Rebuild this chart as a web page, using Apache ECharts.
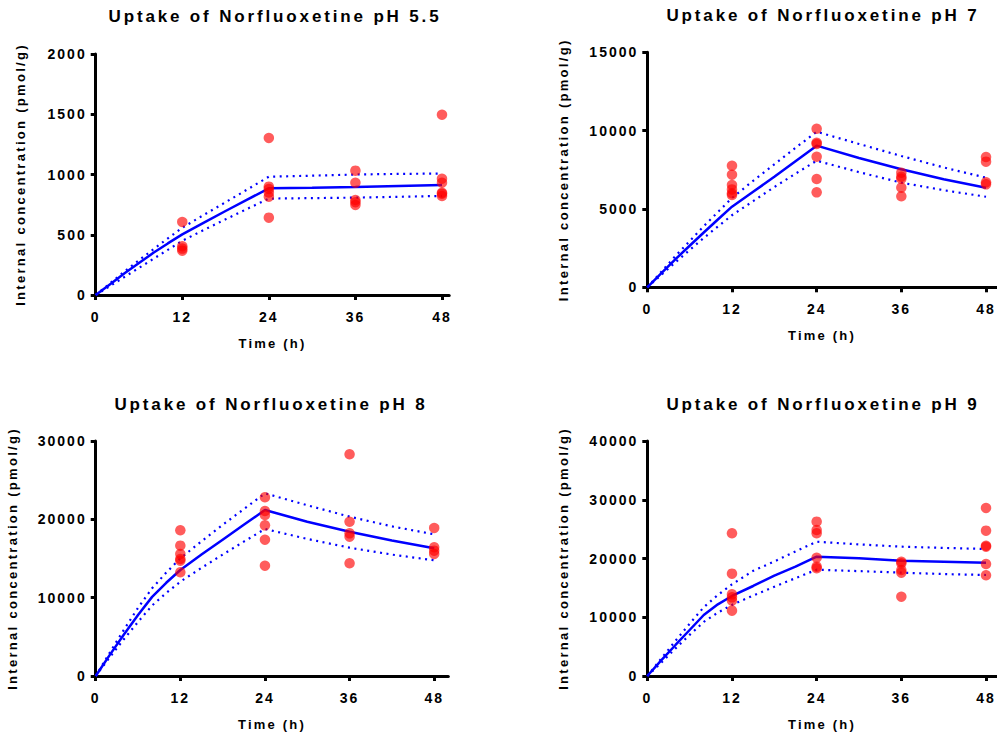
<!DOCTYPE html>
<html>
<head>
<meta charset="utf-8">
<script src="https://cdn.jsdelivr.net/npm/echarts@6/dist/echarts.min.js"></script>
<style>
html,body{margin:0;padding:0;background:#fff;}
#chart{width:997px;height:736px;}
</style>
</head>
<body>
<div id="chart"></div>
<script>
// ---------- data ----------
const panelTitles = ['Uptake of Norfluoxetine pH 5.5', 'Uptake of Norfluoxetine pH 7', 'Uptake of Norfluoxetine pH 8', 'Uptake of Norfluoxetine pH 9'];
const xTicks = [0, 12, 24, 36, 48];
const obsTimes = [12, 24, 36, 48];
const fitTimes = [0, 2, 4, 6, 8, 10, 12, 15, 18, 21, 24, 30, 36, 42, 48];

const ph55Obs = [[606, 405, 385, 368], [1303, 899, 880, 850, 816, 642], [1032, 932, 788, 770, 747], [1496, 965, 932, 849, 840, 821]];
const ph55Fit = [0, 90, 180, 265, 350, 428, 503, 600, 697, 792, 885, 890, 897, 905, 912];
const ph55Upper = [0, 98, 195, 288, 380, 470, 558, 665, 770, 875, 982, 990, 1000, 1005, 1008];
const ph55Lower = [0, 75, 150, 225, 300, 375, 450, 540, 628, 715, 800, 804, 808, 815, 822];

const ph7Obs = [[7760, 7186, 6530, 6250, 6000, 5890], [10120, 9230, 9150, 8335, 6910, 6060], [7315, 7060, 6930, 6360, 5810], [8315, 8020, 6700, 6570]];
const ph7Fit = [0, 900, 1800, 2650, 3500, 4330, 5145, 6100, 7050, 8050, 9040, 8250, 7530, 6900, 6360];
const ph7Upper = [0, 1000, 2000, 2950, 3900, 4800, 5700, 6800, 7850, 8900, 9930, 9150, 8380, 7650, 6995];
const ph7Lower = [0, 800, 1600, 2380, 3150, 3880, 4600, 5500, 6400, 7250, 8080, 7350, 6680, 6200, 5780];

const ph8Obs = [[18600, 16640, 15575, 14940, 14720, 13235], [22810, 21060, 20550, 19230, 17400, 14080], [28300, 19700, 18210, 17790, 14390], [18900, 16430, 16000, 15575]];
const ph8Fit = [0, 2700, 5300, 7800, 10100, 11900, 13530, 15500, 17400, 19300, 21190, 19700, 18420, 17300, 16300];
const ph8Upper = [0, 3000, 5900, 8700, 11200, 13200, 15020, 17200, 19300, 21300, 23320, 21800, 20340, 19100, 18090];
const ph8Lower = [0, 2400, 4700, 6900, 9000, 10600, 12040, 13800, 15500, 17150, 18770, 17500, 16380, 15500, 14770];

const ph9Obs = [[24290, 17420, 13900, 13390, 12820, 11120], [26270, 24850, 24290, 20140, 18610, 18330], [19460, 19180, 18040, 17590, 13500], [28600, 24740, 22180, 22000, 19060, 17140]];
const ph9Fit = [0, 2700, 5280, 7830, 10380, 12200, 13620, 15320, 17100, 18610, 20310, 20050, 19630, 19450, 19290];
const ph9Upper = [0, 3000, 6000, 8900, 11700, 13800, 15600, 17900, 19500, 21200, 22860, 22400, 22010, 21800, 21620];
const ph9Lower = [0, 2300, 4700, 7000, 9200, 10800, 12100, 13700, 15200, 16650, 18100, 17850, 17590, 17350, 17190];

const yMax = [2000, 15000, 30000, 40000];
const yInterval = [500, 5000, 10000, 10000];

// ---------- layout ----------
const FONT = 'Liberation Sans, Arial, sans-serif';
const grids = [
  {left: 95.7, top: 54, width: 353.5, height: 241},
  {left: 647.3, top: 52.3, width: 349.3, height: 235},
  {left: 95.7, top: 441, width: 352.6, height: 235},
  {left: 647.3, top: 441, width: 349.3, height: 235}
];
const xMax = [49, 49.5, 50, 49.5];
const yNameGap = [69, 77, 76.5, 77];
const titlePos = [{x: 275, y: 8}, {x: 823, y: 7}, {x: 271, y: 396}, {x: 823, y: 396}];

const obsSets = [ph55Obs, ph7Obs, ph8Obs, ph9Obs];
const fitSets = [ph55Fit, ph7Fit, ph8Fit, ph9Fit];
const upperSets = [ph55Upper, ph7Upper, ph8Upper, ph9Upper];
const lowerSets = [ph55Lower, ph7Lower, ph8Lower, ph9Lower];

function pairs(xs, ys) { return xs.map((x, i) => [x, ys[i]]); }
function obsPairs(obs) {
  const out = [];
  obs.forEach((vals, i) => vals.forEach(v => out.push([obsTimes[i], v])));
  return out;
}

const axisLine = {show: true, onZero: false, lineStyle: {color: '#000', width: 3}};
const tick = {show: true, inside: false, length: 5, lineStyle: {color: '#000', width: 3}};

const title = [], xAxis = [], yAxis = [], series = [];
for (let p = 0; p < 4; p++) {
  title.push({
    text: panelTitles[p], left: titlePos[p].x, top: titlePos[p].y, textAlign: 'center', padding: 0,
    textStyle: {fontFamily: FONT, fontSize: 17, fontWeight: 'bold', color: '#000'}
  });
  xAxis.push({
    type: 'value', gridIndex: p, min: 0, max: xMax[p], interval: 12,
    name: 'Time (h)', nameLocation: 'middle', nameGap: 41.5,
    nameTextStyle: {fontFamily: FONT, fontSize: 13, fontWeight: 'bold', color: '#000'},
    axisLine: axisLine,
    axisTick: Object.assign({customValues: xTicks}, tick),
    axisLabel: {customValues: xTicks, margin: 15, fontFamily: FONT, fontSize: 14, fontWeight: 'bold', color: '#000'},
    splitLine: {show: false}
  });
  yAxis.push({
    type: 'value', gridIndex: p, min: 0, max: yMax[p], interval: yInterval[p],
    name: 'Internal concentration (pmol/g)', nameLocation: 'middle', nameGap: yNameGap[p],
    nameTextStyle: {fontFamily: FONT, fontSize: 13, fontWeight: 'bold', color: '#000'},
    axisLine: axisLine, axisTick: tick,
    axisLabel: {margin: 9, fontFamily: FONT, fontSize: 14, fontWeight: 'bold', color: '#000', formatter: v => String(v)},
    splitLine: {show: false}
  });
  const lineBase = {type: 'line', xAxisIndex: p, yAxisIndex: p, symbol: 'none', silent: true, z: 2};
  series.push(Object.assign({}, lineBase, {data: pairs(fitTimes, fitSets[p]), lineStyle: {color: '#0000ff', width: 2.5}}));
  series.push(Object.assign({}, lineBase, {data: pairs(fitTimes, upperSets[p]), lineStyle: {color: '#0000ff', width: 2.2, type: [2, 4.5]}}));
  series.push(Object.assign({}, lineBase, {data: pairs(fitTimes, lowerSets[p]), lineStyle: {color: '#0000ff', width: 2.2, type: [2, 4.5]}}));
  series.push({
    type: 'scatter', xAxisIndex: p, yAxisIndex: p, symbol: 'circle', symbolSize: 10.5, z: 3,
    itemStyle: {color: 'rgba(255,0,0,0.8)'},
    data: obsPairs(obsSets[p])
  });
}

const chart = echarts.init(document.getElementById('chart'), null, {renderer: 'svg'});
chart.setOption({animation: false, backgroundColor: '#fff', title, grid: grids, xAxis, yAxis, series});

function spaceText() {
  document.querySelectorAll('#chart svg text').forEach(t => {
    const txt = t.textContent;
    let sp = 2;
    if (txt.indexOf('Uptake') === 0) sp = 2.85;
    else if (txt === 'Time (h)') sp = 2.2;
    else if (txt.indexOf('Internal') === 0) sp = 2.3;
    t.style.letterSpacing = sp + 'px';
  });
}
spaceText();
chart.on('finished', spaceText);
</script>
</body>
</html>
